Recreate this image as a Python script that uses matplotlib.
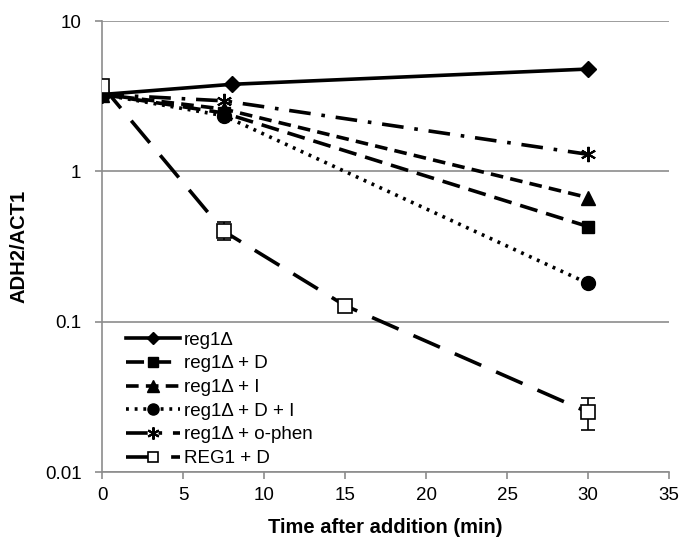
import matplotlib
matplotlib.use("Agg")
import matplotlib.pyplot as plt

plt.rcParams['font.family'] = ['Liberation Sans', 'DejaVu Sans']

# data
t_main = [0, 7.5, 30]
t_reg1 = [0, 8, 30]
reg1 = [3.25, 3.8, 4.8]
reg1_d = [3.25, 2.45, 0.43]
reg1_i = [3.25, 2.6, 0.67]
reg1_di = [3.25, 2.35, 0.18]
reg1_ophen = [3.25, 2.95, 1.3]

t_REG1 = [0, 7.5, 15, 30]
REG1_d = [3.7, 0.40, 0.128, 0.025]
REG1_err_lo = [0, 0.05, 0, 0.006]
REG1_err_hi = [0, 0.06, 0, 0.006]

labels = ["reg1\u0394", "reg1\u0394 + D", "reg1\u0394 + I", "reg1\u0394 + D + I",
          "reg1\u0394 + o-phen", "REG1 + D"]

fig = plt.figure(figsize=(6.82, 5.42), dpi=100)
ax = fig.add_axes([0.150, 0.129, 0.831, 0.832])

lw = 2.6
ax.plot(t_reg1, reg1, color="black", lw=lw, ls="-", marker="D", ms=8, label=labels[0], zorder=5)
ax.plot(t_main, reg1_d, color="black", lw=lw, ls=(0, (5, 2.5)), marker="s", ms=9, label=labels[1], zorder=4)
ax.plot(t_main, reg1_i, color="black", lw=lw, ls=(0, (3.5, 2)), marker="^", ms=10, label=labels[2], zorder=4)
ax.plot(t_main, reg1_di, color="black", lw=lw, ls=(0, (0.8, 1.6)), marker="o", ms=10, label=labels[3], zorder=4)
ax.plot(t_main, reg1_ophen, color="black", lw=lw, ls=(0, (6, 3, 1, 3)), marker=(6, 2, 0), ms=11, mew=1.5, label=labels[4], zorder=4)
ax.errorbar(t_REG1, REG1_d, yerr=[REG1_err_lo, REG1_err_hi], fmt="none",
            ecolor="black", elinewidth=1.2, capsize=5, capthick=1.2, zorder=6)
ax.plot(t_REG1, REG1_d, color="black", lw=lw, ls=(0, (8, 4.5)), marker="s", ms=9.5,
        mfc="white", mec="black", mew=1.2, label=labels[5], zorder=7)

ax.set_yscale("log")
ax.set_ylim(0.01, 10)
ax.set_xlim(0, 35)
ax.set_xticks([0, 5, 10, 15, 20, 25, 30, 35])
ax.set_yticks([0.01, 0.1, 1, 10])
ax.set_yticklabels(["0.01", "0.1", "1", "10"])
ax.minorticks_off()
ax.yaxis.grid(True, color="#8c8c8c", lw=1.2)
ax.set_axisbelow(True)

for s in ["top", "right"]:
    ax.spines[s].set_visible(False)
for s in ["left", "bottom"]:
    ax.spines[s].set_color("#8c8c8c")
    ax.spines[s].set_linewidth(1.2)
ax.tick_params(axis="both", colors="#8c8c8c", labelcolor="black", labelsize=13.5, length=5, width=1.2)
ax.tick_params(axis="x", pad=6)
ax.tick_params(axis="y", pad=10)

ax.set_xlabel("Time after addition (min)", fontsize=14.5, fontweight="bold")
ax.set_ylabel("ADH2/ACT1", fontsize=14.5, fontweight="bold")
ax.xaxis.set_label_coords(0.5, -0.102)
ax.yaxis.set_label_coords(-0.13, 0.5)

leg = ax.legend(loc="lower left", bbox_to_anchor=(0.022, -0.014), frameon=False, fontsize=13.5,
                handlelength=2.9, handletextpad=0.2, labelspacing=0.35, borderaxespad=0.2,
                markerscale=0.8)

fig.savefig("out.png", dpi=100)
